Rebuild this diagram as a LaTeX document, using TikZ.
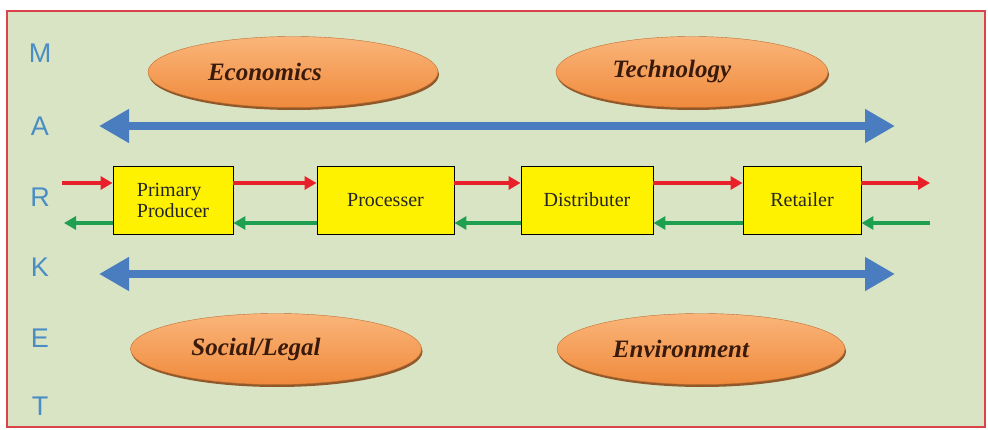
\documentclass[tikz,border=0pt]{standalone}
\usepackage{fontspec}
\setmainfont{Liberation Serif}
\newfontfamily\sansf{Liberation Sans}
\usetikzlibrary{shapes.geometric,arrows.meta,shadows}
\definecolor{bg}{HTML}{D9E4C4}
\definecolor{frame}{HTML}{D9434B}
\definecolor{letter}{HTML}{4A8CC4}
\definecolor{bigblue}{HTML}{4A7CC0}
\definecolor{redar}{HTML}{E8202A}
\definecolor{greenar}{HTML}{1FA050}
\definecolor{orlight}{HTML}{FAB57A}
\definecolor{ordark}{HTML}{F08A3C}
\definecolor{rim}{HTML}{8A4A1A}
\definecolor{etext}{HTML}{3A1A0A}
\newcommand{\ovaltext}[1]{\hspace*{-40pt}#1}
\tikzset{
  letternode/.style={font=\sansf\fontsize{27}{27}\selectfont, text=letter, inner sep=0pt},
  oval/.style={ellipse, minimum width=#1, minimum height=71pt, inner sep=0pt,
    top color=orlight, bottom color=ordark, draw=ordark!80!black, line width=0.4pt,
    drop shadow={shadow xshift=1pt, shadow yshift=-2.5pt, fill=rim, opacity=0.9},
    font=\bfseries\itshape\fontsize{25}{25}\selectfont, text=etext},
  chain/.style={draw=black, line width=0.9pt, fill=yellow, minimum width=120pt, minimum height=68pt,
    inner sep=0pt, font=\fontsize{20}{21}\selectfont, text=black!85},
  bigarrow/.style={draw=bigblue, line width=8.5pt, {Triangle[length=30pt,width=32pt]}-{Triangle[length=30pt,width=32pt]}},
  fwd/.style={draw=redar, line width=3.5pt, -{Triangle[length=12pt,width=13pt]}},
  bwd/.style={draw=greenar, line width=3.5pt, -{Triangle[length=12pt,width=13pt]}}
}
\begin{document}
\begin{tikzpicture}[x=1pt,y=-1pt]
\useasboundingbox (0,0) rectangle (988,430);
\fill[white] (0,0) rectangle (988,430);
\draw[frame, line width=2pt, fill=bg] (7,11) rectangle (985,427);
% MARKET letters
\node[letternode] (m) at (40,53) {M};
\node[letternode] (a) at (40,126) {A};
\node[letternode] (r) at (40,197) {R};
\node[letternode] (k) at (40,267) {K};
\node[letternode] (e) at (40,338) {E};
\node[letternode] (t) at (40,406) {T};
% ovals
\node[oval=290pt] (eco) at (293,72) {\hspace*{-56pt}Economics};
\node[oval=272pt] (tech) at (692,72) {\ovaltext{Technology}};
\node[oval=291pt] (soc) at (276,349) {\ovaltext{Social/Legal}};
\node[oval=288pt] (env) at (701,349) {\ovaltext{Environment}};
% big arrows
\coordinate (ta) at (99,126);
\coordinate (tb) at (895,126);
\coordinate (ba) at (99,274);
\coordinate (bb) at (895,274);
\draw[bigarrow] (ta) -- (tb);
\draw[bigarrow] (ba) -- (bb);
% boxes
\node[chain, align=left] (pp) at (173,200) {Primary\\Producer};
\node[chain, minimum width=137pt] (proc) at (385.5,200) {Processer};
\node[chain, minimum width=132pt] (dist) at (587,200) {Distributer};
\node[chain, minimum width=118pt] (ret) at (802,200) {Retailer};
% flow coordinates
\coordinate (inL) at (62,183);
\coordinate (outR) at (930,183);
\coordinate (inR) at (930,223);
\coordinate (outL) at (64,223);
% forward (red)
\draw[fwd] (inL) -- (pp.west |- inL);
\draw[fwd] (pp.east |- inL) -- (proc.west |- inL);
\draw[fwd] (proc.east |- inL) -- (dist.west |- inL);
\draw[fwd] (dist.east |- inL) -- (ret.west |- inL);
\draw[fwd] (ret.east |- inL) -- (outR);
% backward (green)
\draw[bwd] (inR) -- (ret.east |- inR);
\draw[bwd] (ret.west |- inR) -- (dist.east |- inR);
\draw[bwd] (dist.west |- inR) -- (proc.east |- inR);
\draw[bwd] (proc.west |- inR) -- (pp.east |- inR);
\draw[bwd] (pp.west |- inR) -- (outL);
\end{tikzpicture}
\end{document}
